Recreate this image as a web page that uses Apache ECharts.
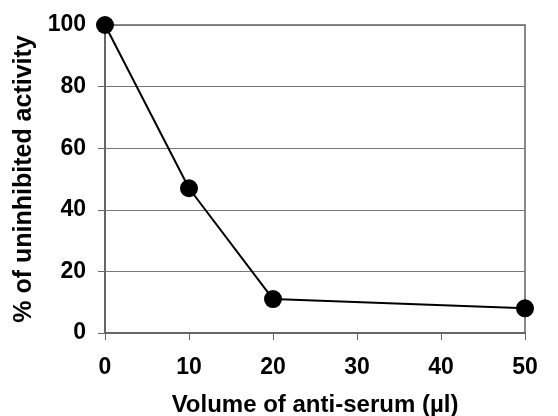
<!DOCTYPE html>
<html>
<head>
<meta charset="utf-8">
<script src="https://cdn.jsdelivr.net/npm/echarts@6/dist/echarts.min.js"></script>
<style>html,body{margin:0;padding:0;background:#fff}#c{width:558px;height:416px}</style>
</head>
<body>
<div id="c"></div>
<script>
var volumes = [0, 10, 20, 50];
var activity = [100, 47, 11, 8];
var xTicks = [0, 10, 20, 30, 40, 50];
var yTicks = [0, 20, 40, 60, 80, 100];

var chart = echarts.init(document.getElementById('c'), null, {renderer: 'canvas'});
var font = '"Liberation Sans", Arial, sans-serif';
chart.setOption({
  animation: false,
  backgroundColor: '#fff',
  grid: {left: 105, right: 33, top: 25, bottom: 83, outerBoundsMode: 'none', containLabel: false, show: true, borderColor: '#888', borderWidth: 2, backgroundColor: 'transparent'},
  xAxis: {
    type: 'value', min: xTicks[0], max: xTicks[xTicks.length - 1], interval: 10,
    name: 'Volume of anti-serum (µl)', nameLocation: 'middle', nameGap: 60,
    nameTextStyle: {fontFamily: font, fontWeight: 'bold', fontSize: 24, color: '#000'},
    axisLine: {show: true, lineStyle: {color: '#666', width: 2}},
    axisTick: {show: true, length: 7, lineStyle: {color: '#666', width: 1}},
    axisLabel: {margin: 23, fontFamily: font, fontWeight: 'bold', fontSize: 23, color: '#000'},
    splitLine: {show: false}
  },
  yAxis: {
    type: 'value', min: yTicks[0], max: yTicks[yTicks.length - 1], interval: 20,
    name: '% of uninhibited activity', nameLocation: 'middle', nameGap: 60,
    nameTextStyle: {fontFamily: font, fontWeight: 'bold', fontSize: 25, color: '#000'},
    axisLine: {show: true, lineStyle: {color: '#666', width: 2}},
    axisTick: {show: true, length: 7, lineStyle: {color: '#666', width: 1}},
    axisLabel: {margin: 19, fontFamily: font, fontWeight: 'bold', fontSize: 23, color: '#000'},
    splitLine: {show: true, lineStyle: {color: '#777', width: 1}}
  },
  series: [{
    type: 'line',
    data: volumes.map(function (v, i) { return [v, activity[i]]; }),
    symbol: 'circle', symbolSize: 18,
    itemStyle: {color: '#000'},
    lineStyle: {color: '#000', width: 2},
    clip: false
  }]
});
</script>
</body>
</html>
